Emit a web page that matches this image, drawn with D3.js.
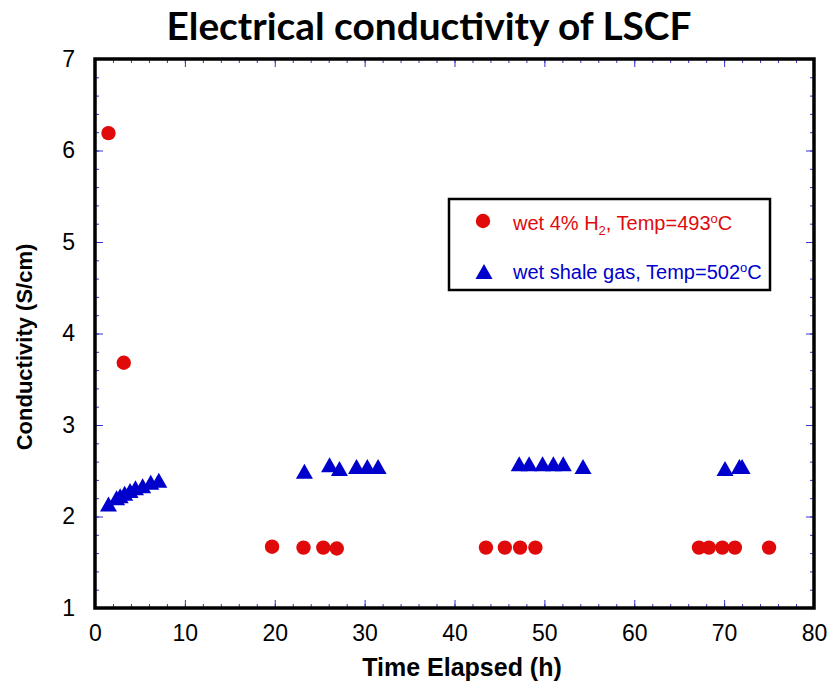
<!DOCTYPE html>
<html>
<head>
<meta charset="utf-8">
<script src="https://cdn.jsdelivr.net/npm/d3@7"></script>
<style>
  body { margin: 0; background: #fff; }
  svg { display: block; }
</style>
</head>
<body>
<div id="chart"></div>
<script>
// data
var h2Time = [1.5, 3.2, 19.7, 23.2, 25.4, 26.9, 43.5, 45.6, 47.3, 49.0, 67.2, 68.3, 69.8, 71.2, 75.0]
var h2Cond = [6.19, 3.68, 1.67, 1.66, 1.66, 1.65, 1.66, 1.66, 1.66, 1.66, 1.66, 1.66, 1.66, 1.66, 1.66]

var shaleTime = [1.5, 2.4, 2.8, 3.3, 3.9, 4.5, 5.3, 6.2, 7.1, 23.3, 26.1, 27.2, 29.1, 30.3, 31.5,
    47.2, 48.3, 49.8, 51.0, 52.1, 54.3, 70.1, 71.7, 72.0]
var shaleCond = [2.13, 2.20, 2.22, 2.25, 2.28, 2.31, 2.33, 2.37, 2.39, 2.49, 2.56, 2.52, 2.54, 2.54, 2.54,
    2.57, 2.57, 2.57, 2.57, 2.57, 2.54, 2.52, 2.54, 2.54]

var xTicks = [0, 10, 20, 30, 40, 50, 60, 70, 80]
var yTicks = [1, 2, 3, 4, 5, 6, 7]

var titleText = "Electrical conductivity of LSCF"
var xTitle = "Time Elapsed (h)"
var yTitle = "Conductivity (S/cm)"

var W = 829, H = 685
var margin = { top: 59, right: 15, bottom: 77, left: 95 },
    width = W - margin.left - margin.right,
    height = H - margin.top - margin.bottom

var red = "#e00a0a", blue = "#0000cc", tickColor = "#3535d0"
var font = "Liberation Sans, Arial, sans-serif"

var svg = d3.select("#chart").append("svg")
    .attr("width", W)
    .attr("height", H)

var g = svg.append("g")
    .attr("transform", "translate(" + margin.left + "," + margin.top + ")")

var x = d3.scaleLinear().domain([0, 80]).range([0, width])
var y = d3.scaleLinear().domain([1, 7]).range([height, 0])

var minorX = d3.range(0, 80.01, 2)
var minorY = d3.range(1, 7.01, 0.2)

// ticks on all four sides, pointing inward
function tickAxis(axisFn, scale, vals, size) {
    return axisFn(scale).tickValues(vals).tickSize(-size).tickFormat("")
}
var axes = [
    [d3.axisBottom, x, "translate(0," + height + ")"],
    [d3.axisTop, x, "translate(0,0)"],
    [d3.axisLeft, y, "translate(0,0)"],
    [d3.axisRight, y, "translate(" + width + ",0)"]
]
axes.forEach(function (a) {
    var isX = a[1] === x
    var minor = g.append("g").attr("transform", a[2])
        .call(tickAxis(a[0], a[1], isX ? minorX : minorY, 4))
    var major = g.append("g").attr("transform", a[2])
        .call(tickAxis(a[0], a[1], isX ? xTicks : yTicks, 8))
    ;[minor, major].forEach(function (s) {
        s.select(".domain").remove()
        s.selectAll("line").attr("stroke", tickColor).attr("stroke-width", 1)
    })
})

// tick labels
var xLab = g.append("g")
    .attr("transform", "translate(0," + height + ")")
    .call(d3.axisBottom(x).tickValues(xTicks).tickSize(0).tickPadding(17).tickFormat(d3.format("d")))
xLab.select(".domain").remove()
xLab.selectAll("text")
    .style("font-family", font)
    .style("font-size", "23px")
    .attr("fill", "#000")

var yLab = g.append("g")
    .call(d3.axisLeft(y).tickValues(yTicks).tickSize(0).tickPadding(20).tickFormat(d3.format("d")))
yLab.select(".domain").remove()
yLab.selectAll("text")
    .style("font-family", font)
    .style("font-size", "23px")
    .attr("fill", "#000")

// frame
g.append("rect")
    .attr("x", 0).attr("y", 0)
    .attr("width", width).attr("height", height)
    .attr("fill", "none")
    .attr("stroke", "#000")
    .attr("stroke-width", 3.5)

var triPath = "M0,-8L8.5,7L-8.5,7Z"

// red circles
g.selectAll(".h2")
    .data(h2Time)
    .enter()
    .append("circle")
    .attr("class", "h2")
    .attr("cx", function (d) { return x(d) })
    .attr("cy", function (d, i) { return y(h2Cond[i]) })
    .attr("r", 7.2)
    .attr("fill", red)

// blue triangles
g.selectAll(".shale")
    .data(shaleTime)
    .enter()
    .append("path")
    .attr("class", "shale")
    .attr("d", triPath)
    .attr("transform", function (d, i) { return "translate(" + x(d) + "," + y(shaleCond[i]) + ")" })
    .attr("fill", blue)

// legend
var leg = svg.append("g")
leg.append("rect")
    .attr("x", 449).attr("y", 199)
    .attr("width", 321).attr("height", 91)
    .attr("fill", "#fff")
    .attr("stroke", "#000")
    .attr("stroke-width", 2.5)
leg.append("circle").attr("cx", 483).attr("cy", 221).attr("r", 7.2).attr("fill", red)
leg.append("path").attr("d", triPath).attr("transform", "translate(484,272)").attr("fill", blue)

var t1 = leg.append("text").attr("x", 513).attr("y", 230)
    .attr("fill", red).style("font-family", font).style("font-size", "20px")
t1.append("tspan").text("wet 4% H")
t1.append("tspan").attr("dy", 5).style("font-size", "13px").text("2")
t1.append("tspan").attr("dy", -5).text(", Temp=493")
t1.append("tspan").attr("dy", -7).style("font-size", "13px").text("o")
t1.append("tspan").attr("dy", 7).text("C")

var t2 = leg.append("text").attr("x", 513).attr("y", 279)
    .attr("fill", blue).style("font-family", font).style("font-size", "20px")
t2.append("tspan").text("wet shale gas, Temp=502")
t2.append("tspan").attr("dy", -7).style("font-size", "13px").text("o")
t2.append("tspan").attr("dy", 7).text("C")

// titles
svg.append("text")
    .attr("x", 429).attr("y", 40)
    .attr("text-anchor", "middle")
    .attr("textLength", 525)
    .attr("lengthAdjust", "spacingAndGlyphs")
    .style("font-family", "Lato, 'Open Sans', sans-serif")
    .style("font-weight", "bold")
    .style("font-size", "38px")
    .text(titleText)

svg.append("text")
    .attr("x", 462).attr("y", 676)
    .attr("text-anchor", "middle")
    .style("font-family", font)
    .style("font-weight", "bold")
    .style("font-size", "25px")
    .text(xTitle)

svg.append("text")
    .attr("transform", "translate(32,347) rotate(-90)")
    .attr("text-anchor", "middle")
    .style("font-family", font)
    .style("font-weight", "bold")
    .style("font-size", "22px")
    .text(yTitle)
</script>
</body>
</html>
